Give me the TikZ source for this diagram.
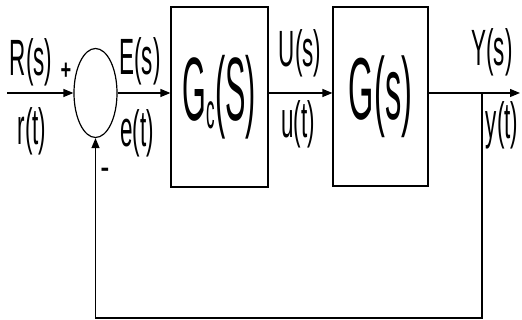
\documentclass[tikz,border=0pt]{standalone}
\usepackage{fontspec}
\setmainfont{Liberation Sans}
\usepackage{graphicx}
\usetikzlibrary{shapes.geometric,arrows.meta}
\newcommand{\smalllab}[1]{\fontsize{51}{51}\selectfont\scalebox{0.44}[1]{#1}}
\newcommand{\biglab}[3]{\fontsize{#1}{#1}\selectfont\scalebox{#2}[1]{#3}}
\begin{document}
\begin{tikzpicture}[x=1pt,y=-1pt,
  wire/.style={line width=1.2pt},
  arr/.style={wire,-{Triangle[length=10pt,width=8pt]}},
  blockbox/.style={draw,line width=1.2pt,inner sep=0,align=center},
  lbl/.style={inner sep=0}]
\useasboundingbox (0,0) rectangle (522,320);

% summing junction
\node[draw,ellipse,line width=1.2pt,minimum width=43pt,minimum height=89pt,inner sep=0] (sum) at (95.5,93) {};

% blocks
\node[blockbox,minimum width=97pt,minimum height=180pt] (gc) at (219.5,97)
  {\biglab{90}{0.34}{G\raisebox{-8pt}{\fontsize{50}{50}\selectfont c}(S)}};
\node[blockbox,minimum width=95pt,minimum height=179pt] (g) at (380.5,96.5)
  {\biglab{88}{0.37}{G(s)}};

% free ends
\coordinate (in) at (7,93);
\coordinate (out) at (520,93);
\coordinate (br) at (482,93);
\coordinate (fbr) at (482,318);

% connectors
\draw[arr] (in) -- (sum.west);
\draw[arr] (sum.east) -- (sum.east -| gc.west);
\draw[arr] (gc.east |- sum.east) -- (g.west |- sum.east);
\draw[arr] (g.east |- sum.east) -- (out);
\draw[arr] (br) -- (fbr) -| (sum.south);

% signal labels
\node[lbl] (Rs) at (31,62) {\smalllab{R(s)}};
\node[lbl] (rt) at (32,131) {\smalllab{r(t)}};
\node[lbl] (Es) at (140,61) {\smalllab{E(s)}};
\node[lbl] (et) at (137,133) {\smalllab{e(t)}};
\node[lbl] (Us) at (300,53) {\smalllab{U(s)}};
\node[lbl] (ut) at (298,124) {\smalllab{u(t)}};
\node[lbl] (Ys) at (492,52) {\smalllab{Y(s)}};
\node[lbl] (yt) at (502,125) {\smalllab{y(t)}};

% signs
\node[lbl] (plus) at (66,71) {\fontsize{28}{28}\selectfont\scalebox{0.65}[1]{\textbf{+}}};
\node[lbl] (minus) at (105,172) {\fontsize{26}{26}\selectfont\textbf{-}};
\end{tikzpicture}
\end{document}
